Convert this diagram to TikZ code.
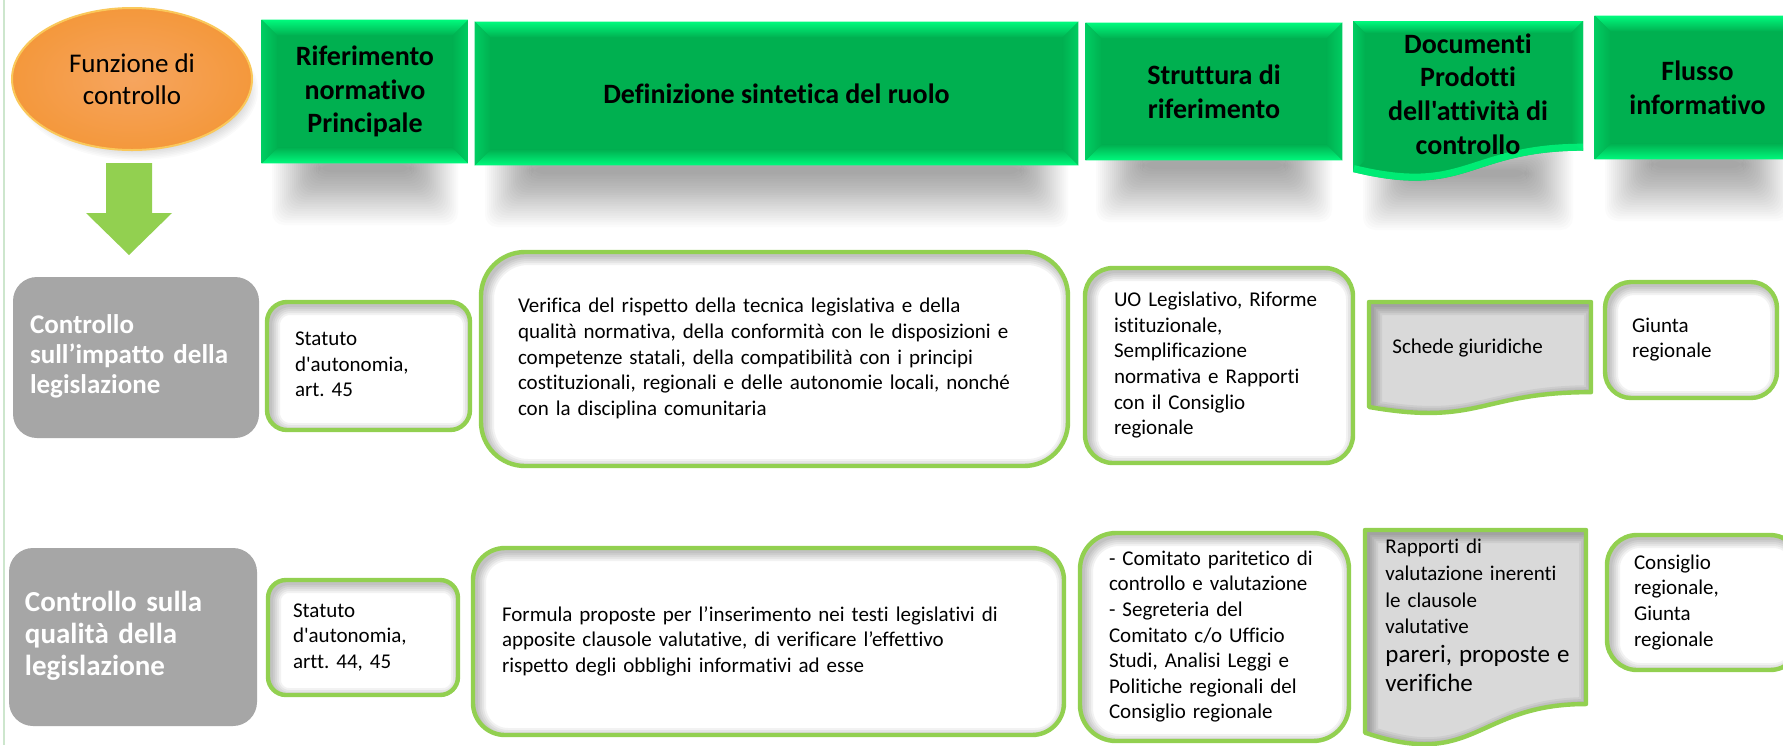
\documentclass[tikz,border=0pt]{standalone}
\usepackage{fontspec}
\setmainfont{Carlito}[Ligatures={TeXOff,CommonOff}]
\usetikzlibrary{shapes.geometric}
\definecolor{gborder}{RGB}{146,208,80}
\definecolor{hdrface}{RGB}{0,176,80}
\definecolor{hdrhi}{RGB}{0,250,125}
\definecolor{hdrside}{RGB}{0,205,98}
\definecolor{lblgray}{RGB}{166,166,166}
\definecolor{docgray}{RGB}{217,217,217}
\definecolor{arrowgreen}{RGB}{146,208,80}
\definecolor{edgegreen}{RGB}{205,230,205}
\definecolor{orcenter}{RGB}{246,165,95}
\definecolor{orouter}{RGB}{244,152,60}
\definecolor{orrim}{RGB}{250,200,90}
\newcommand\bodyfont{\fontsize{10.5}{12.8}\selectfont}
\newcommand\hdrfont{\fontsize{14}{16.8}\selectfont\bfseries}
\newcommand\rows[1]{\begin{tabular}{@{}l@{}}#1\end{tabular}}
\newcommand\docshape[4]{(#1,#2) -- (#3,#2) -- (#3,{#2+0.802*#4}) .. controls ({(#1+#3)/2},{#2+0.802*#4}) and ({(#1+#3)/2},{#2+1.107*#4}) .. (#1,{#2+0.934*#4}) -- cycle}
\newlength\bv \setlength\bv{8pt}
\newcommand\bevel[1]{%
\shade[top color=hdrhi, bottom color=hdrface] (#1.north west) -- (#1.north east) -- ([xshift=-\bv,yshift=-\bv]#1.north east) -- ([xshift=\bv,yshift=-\bv]#1.north west) -- cycle;
\shade[bottom color=hdrhi, top color=hdrface] (#1.south west) -- (#1.south east) -- ([xshift=-\bv,yshift=\bv]#1.south east) -- ([xshift=\bv,yshift=\bv]#1.south west) -- cycle;
\shade[left color=hdrside, right color=hdrface] (#1.north west) -- ([xshift=\bv,yshift=-\bv]#1.north west) -- ([xshift=\bv,yshift=\bv]#1.south west) -- (#1.south west) -- cycle;
\shade[right color=hdrside, left color=hdrface] (#1.north east) -- ([xshift=-\bv,yshift=-\bv]#1.north east) -- ([xshift=-\bv,yshift=\bv]#1.south east) -- (#1.south east) -- cycle;}
% soft shadow under a header: x1, x2, bottom y
\newcommand\softshadow[3]{%
\foreach \k in {0,...,23}{\fill[black, opacity=0.017, rounded corners=6pt] ({#1+10+2*\k},{#3-40+1.8*\k}) rectangle ({#2-10-2*\k},{#3+62-2.3*\k});}}
\newcommand\docinner[4]{%
\begin{scope}
\clip \docshape{#1}{#2}{#3}{#4};
\foreach \ww in {10,8,6,4,2}{
\draw[shift={(3,3)}, line width=\ww pt, black, opacity=0.055] \docshape{#1}{#2}{#3}{#4};}
\end{scope}}
\tikzset{
 hdr/.style={fill=hdrface, inner sep=0pt, align=center, font=\hdrfont},
 innershadow/.style={path picture={
   \foreach \ww in {10,8,6,4,2}{
     \draw[line width=\ww pt, black, opacity=0.05, rounded corners=#1]
       ([xshift=1.5pt,yshift=-1.5pt]path picture bounding box.south west) rectangle
       ([xshift=1.5pt,yshift=-1.5pt]path picture bounding box.north east);}}},
 wbox/.style={draw=gborder, line width=2.2pt, fill=white, align=left, font=\bodyfont,
   inner ysep=0pt, rounded corners=#1, innershadow=#1},
 lbl/.style={fill=lblgray, rounded corners=12pt, text=white, align=left, inner ysep=0pt},
 doctext/.style={inner sep=0pt, font=\bodyfont, align=left}
}
\begin{document}
\begin{tikzpicture}[x=0.5pt,y=-0.5pt]
\useasboundingbox (0,0) rectangle (1783,745);
\fill[white] (0,0) rectangle (1783,745);
\clip (0,0) rectangle (1783,745);
\draw[edgegreen, line width=1.2pt] (4,0) -- (4,745);

% ---- shadows ----
\foreach \k in {0,...,15}{\fill[black, opacity=0.02] (138,90) ellipse [x radius={120-1.6*\k}, y radius={70-1.6*\k}];}
\softshadow{262}{468}{163}
\softshadow{475}{1078}{165}
\softshadow{1086}{1342}{160}
\softshadow{1353}{1583}{168}
\softshadow{1595}{1800}{159}

% ---- header row ----
\node[ellipse, minimum width=120pt, minimum height=71pt, inner color=orcenter, outer color=orouter,
  draw=orrim, line width=1pt, font=\fontsize{13.5}{16}\selectfont, align=center]
  (fc) at (132,79) {Funzione di\\controllo};
\fill[arrowgreen] (106,163) -- (152,163) -- (152,213) -- (172,213) -- (129,255) -- (86,213) -- (106,213) -- cycle;

\node[hdr, minimum width=103pt, minimum height=71.5pt] (h1) at (365,91.5) {Riferimento\\normativo\\Principale};
\bevel{h1}
\node[hdr, minimum width=301.5pt, minimum height=71.5pt] (h2) at (776.5,93.5) {Definizione sintetica del ruolo};
\bevel{h2}
\node[hdr, minimum width=128pt, minimum height=68.5pt] (h3) at (1214,91.5) {Struttura di\\riferimento};
\bevel{h3}
\fill[hdrface] \docshape{1353}{21}{1583}{161.7};
\shade[top color=hdrhi, bottom color=hdrface] (1353,21) -- (1583,21) -- (1571,33) -- (1365,33) -- cycle;
\shade[left color=hdrside, right color=hdrface] (1353,21) -- (1365,33) -- (1365,160) -- (1353,172) -- cycle;
\shade[right color=hdrside, left color=hdrface] (1583,21) -- (1571,33) -- (1571,142) -- (1583,151) -- cycle;
\begin{scope}
\clip \docshape{1353}{21}{1583}{161.7};
\draw[hdrhi, line width=7pt, opacity=0.8] (1583,150.7) .. controls (1468,150.7) and (1468,200) .. (1353,172);
\end{scope}
\node[hdr, fill=none] (h4) at (1468,94) {Documenti\\Prodotti\\dell'attività di\\controllo};
\node[hdr, minimum width=102.5pt, minimum height=71.5pt] (h5) at (1697.5,87.5) {Flusso\\informativo};
\bevel{h5}

% ---- row 1 ----
\node[lbl, minimum width=123pt, minimum height=80.5pt, text width=106pt, inner xsep=8.5pt,
  font=\fontsize{13.5}{15}\selectfont\bfseries] (g1) at (136,357.5) {\rows{Controllo\\sull’impatto della\\legislazione}};
\node[wbox=10pt, minimum width=101.5pt, minimum height=64pt, text width=73.5pt, inner xsep=14pt] (s1) at (368.5,366)
  {\rows{Statuto\\d'autonomia,\\art.\ 45}};
\node[wbox=22pt, minimum width=293.5pt, minimum height=107pt, text width=256.5pt, inner xsep=18.5pt] (v1) at (774.5,359)
  {\rows{Verifica del rispetto della tecnica legislativa e della\\qualità normativa, della conformità con le disposizioni e\\competenze statali, della compatibilità con i principi\\costituzionali, regionali e delle autonomie locali, nonché\\con la disciplina comunitaria}};
\node[wbox=14pt, minimum width=134pt, minimum height=97.5pt, text width=105pt, inner xsep=14.5pt] (u1) at (1219,365.5)
  {\rows{UO Legislativo, Riforme\\istituzionale,\\Semplificazione\\normativa e Rapporti\\con il Consiglio\\regionale}};
\fill[docgray] \docshape{1369}{302}{1591}{112.4};
\docinner{1369}{302}{1591}{112.4}
\draw[gborder, line width=2.2pt, line join=round] \docshape{1369}{302}{1591}{112.4};
\node[doctext, anchor=west] (d1) at (1392,348) {Schede giuridiche};
\node[wbox=13pt, minimum width=86pt, minimum height=58pt, text width=59pt, inner xsep=13.5pt] (gi) at (1691,340)
  {\rows{Giunta\\regionale}};

% ---- row 2 ----
\node[lbl, minimum width=124pt, minimum height=89pt, text width=108pt, inner xsep=8pt,
  font=\fontsize{14.5}{16}\selectfont\bfseries] (g2) at (133,637) {\raisebox{-3pt}{\rows{Controllo sulla\\qualità della\\legislazione}}};
\node[wbox=9pt, minimum width=95pt, minimum height=57.5pt, text width=70pt, inner xsep=12.5pt] (s2) at (363,637.5)
  {\rows{Statuto\\d'autonomia,\\artt.\ 44, 45}};
\node[wbox=16pt, minimum width=295.5pt, minimum height=93.5pt, text width=266.5pt, inner xsep=14.5pt] (f2) at (768.5,641.5)
  {\rows{Formula proposte per l’inserimento nei testi legislativi di\\apposite clausole valutative, di verificare l’effettivo\\rispetto degli obblighi informativi ad esse}};
\node[wbox=18pt, minimum width=134.5pt, minimum height=104pt, text width=105.5pt, inner xsep=14.5pt] (u2) at (1214.5,637)
  {\rows{- Comitato paritetico di\\controllo e valutazione\\- Segreteria del\\Comitato c/o Ufficio\\Studi, Analisi Leggi e\\Politiche regionali del\\Consiglio regionale}};
\fill[docgray] \docshape{1365}{530}{1586}{217};
\docinner{1365}{530}{1586}{217}
\draw[gborder, line width=2.2pt, line join=round] \docshape{1365}{530}{1586}{217};
\node[doctext, anchor=north west, text width=99pt] (d2) at (1385,539)
  {{\fontsize{10.5}{13.3}\selectfont Rapporti di\\valutazione inerenti\\le clausole\\valutative\par}{\fontsize{12.5}{14.5}\selectfont pareri, proposte e\\verifiche\par}};
\node[wbox=15pt, minimum width=96.5pt, minimum height=67.5pt, text width=69.5pt, inner xsep=13.5pt] (c2) at (1703.5,602.5)
  {\rows{Consiglio\\regionale,\\Giunta\\regionale}};
\end{tikzpicture}
\end{document}
